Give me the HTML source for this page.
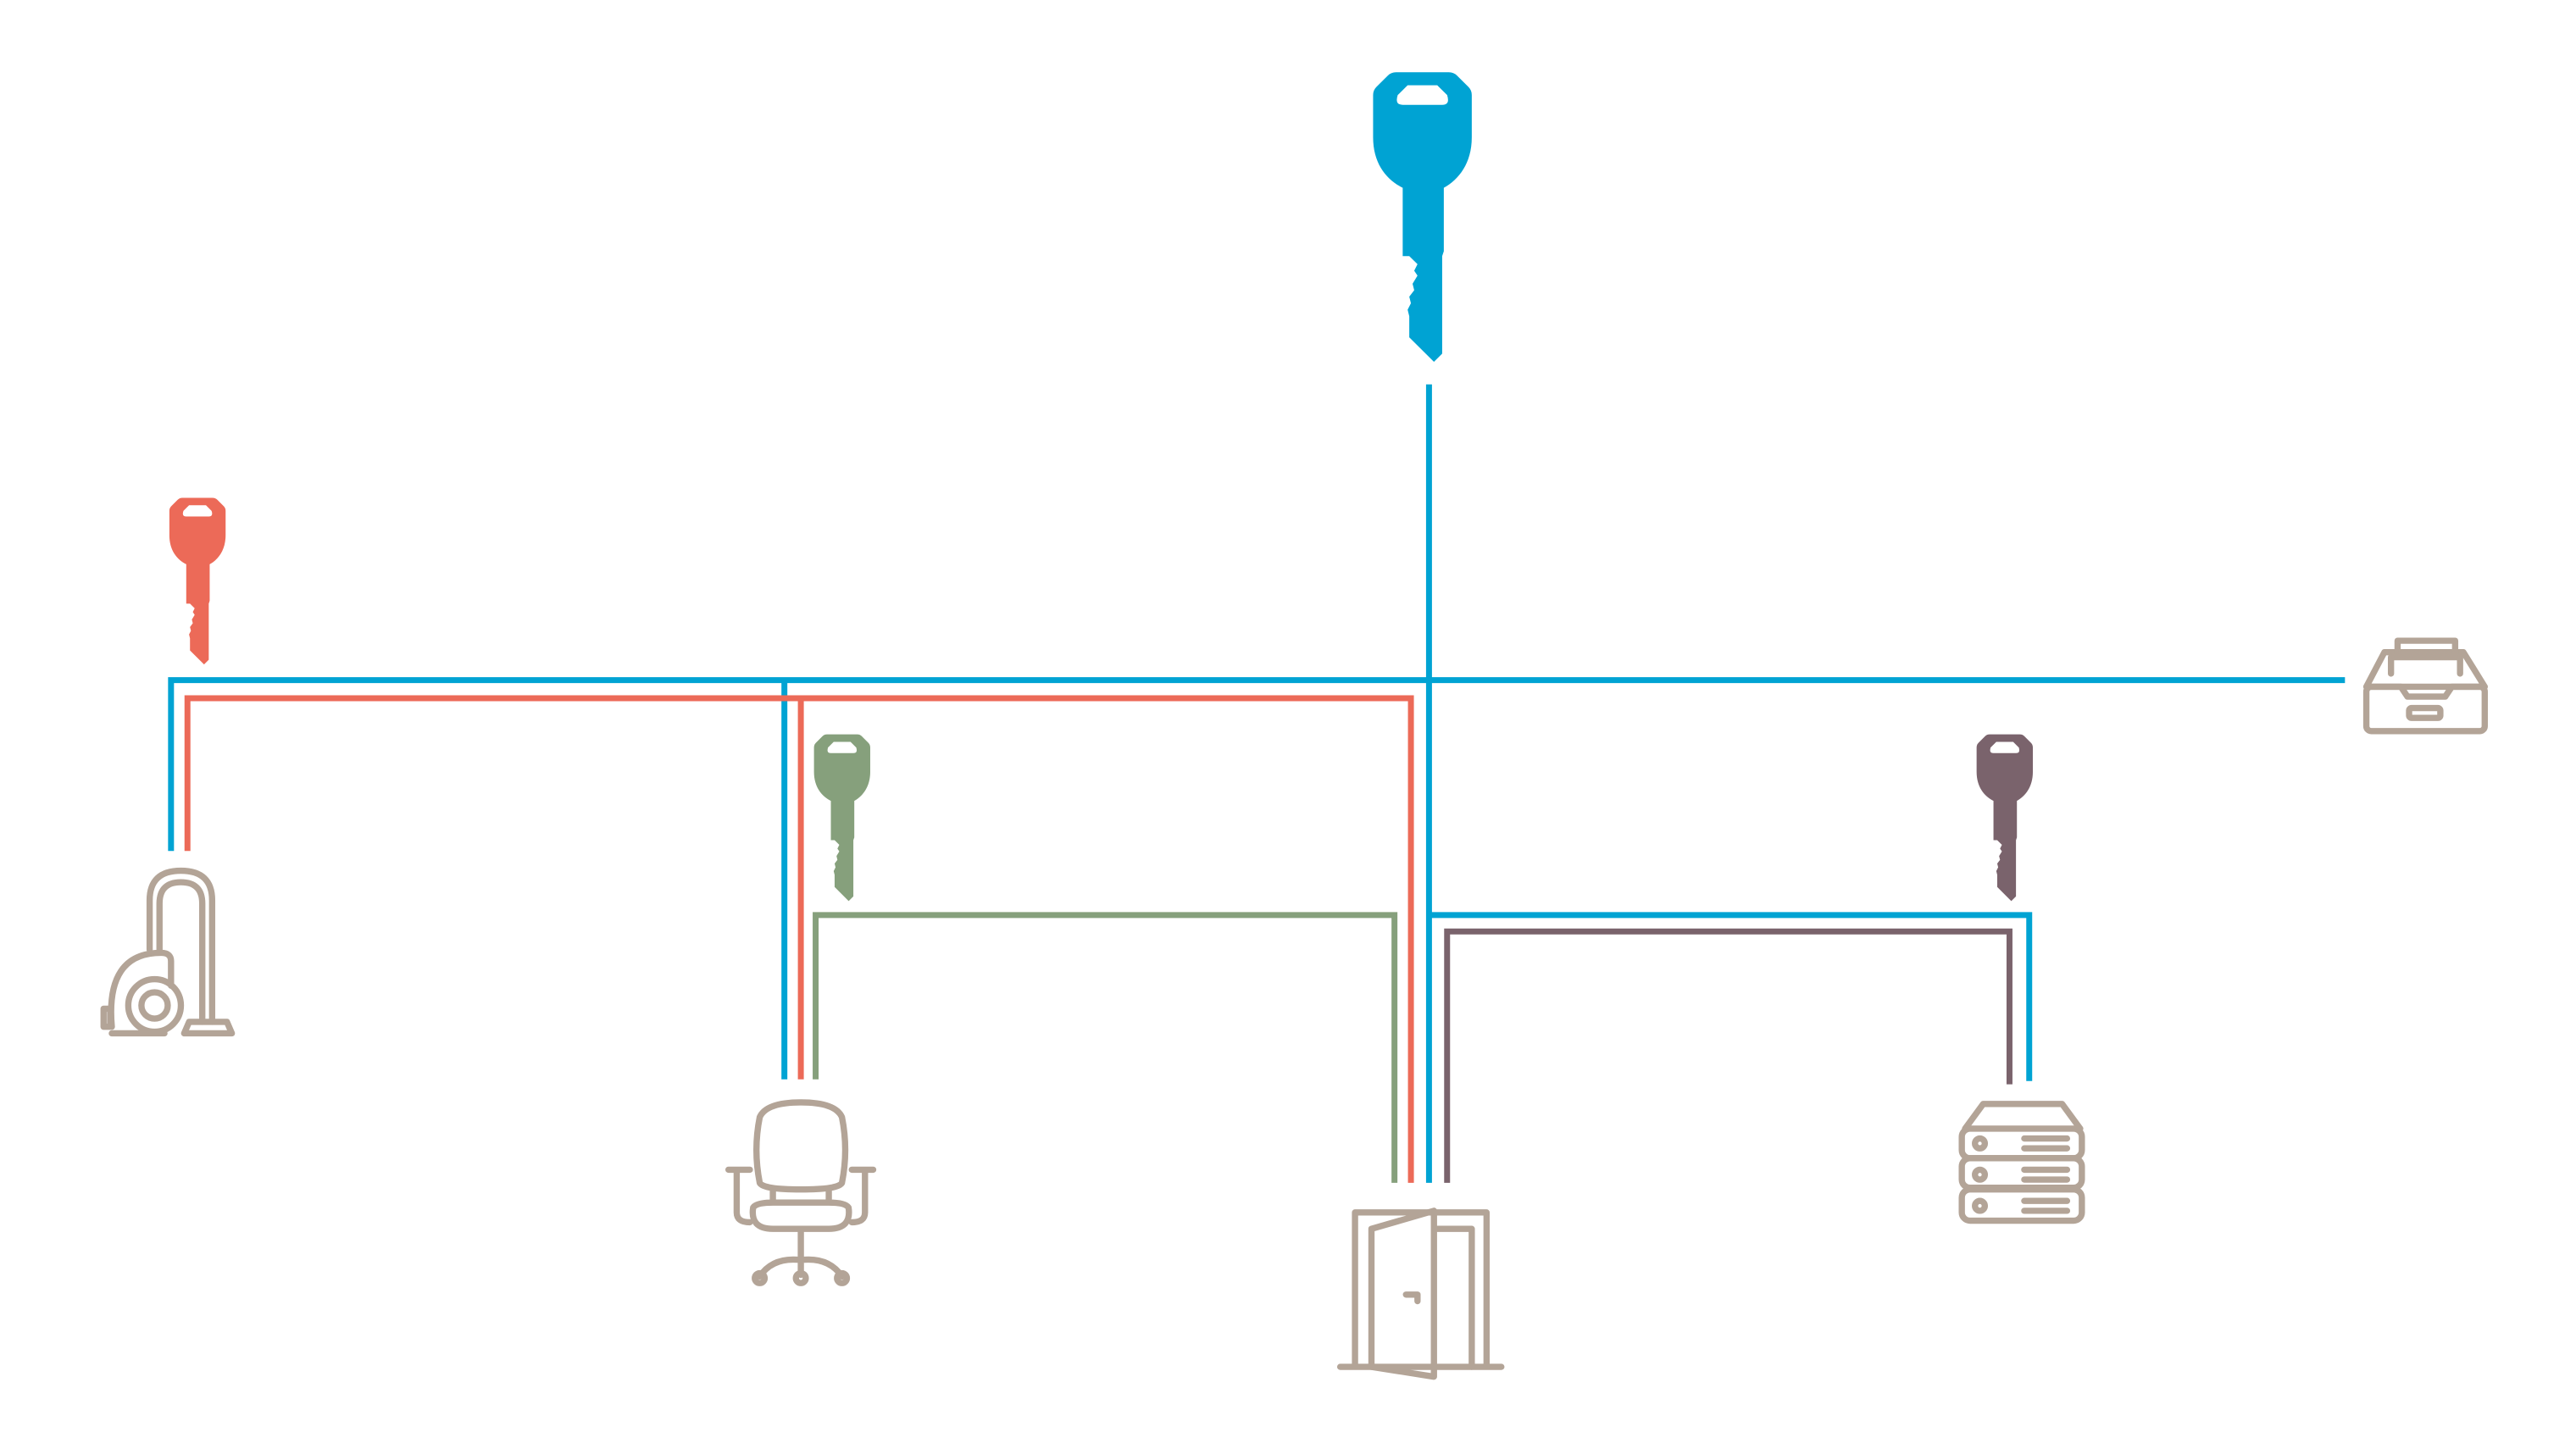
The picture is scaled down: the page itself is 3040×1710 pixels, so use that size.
<!DOCTYPE html>
<html><head><meta charset="utf-8"><style>html,body{margin:0;padding:0;background:#fff}svg{display:block}</style></head>
<body>
<svg width="3040" height="1710" viewBox="0 0 1566.5 882" preserveAspectRatio="none" xmlns="http://www.w3.org/2000/svg">
<defs>
<g id="key">
<path d="M14,0 H46 Q49,0 51,2 L58,9 Q60,11 60,14 V40 C60,56 52,66 43,71 V110 L42,113 V173 L37,178 L22,163 V150 L21,146 L23,142 L22,138 L25,134 L24,130 L27,125 L25,122 L27,118 L22,113 H18 V71 C8,66 0,56 0,40 V14 Q0,11 2,9 L9,2 Q11,0 14,0 Z"/>
<path d="M21,8 H39 L45,14 Q47,20 42,20 H18 Q13,20 15,14 Z" fill="#fff"/>
</g>
</defs>
<g fill="none" stroke-width="3.6" stroke-linejoin="miter">
<g stroke="#00a3d3">
<path d="M869,234 V720"/>
<path d="M104,518 V414 H1426"/>
<path d="M477,414 V657"/>
<path d="M869,557 H1234 V658"/>
</g>
<path stroke="#ec6a58" d="M114,518 V425 H858 V720 M487,425 V657"/>
<path stroke="#86a07c" d="M496,657 V557 H848 V720"/>
<path stroke="#7a636c" d="M880,720 V567 H1222 V660"/>
</g>
<use href="#key" fill="#00a3d3" transform="translate(835,44) scale(1,0.99)"/>
<use href="#key" fill="#ec6a58" transform="translate(103,303) scale(0.57,0.57)"/>
<use href="#key" fill="#86a07c" transform="translate(495,447) scale(0.57,0.57)"/>
<use href="#key" fill="#7a636c" transform="translate(1202,447) scale(0.57,0.57)"/>
<g fill="none" stroke="#b3a497" stroke-width="3.8" stroke-linecap="round" stroke-linejoin="round">
<path d="M91,578 V548 Q91,530 110,530 Q129,530 129,548 V622"/>
<path d="M97,578 V550 Q97,537 110,537 Q123,537 123,550 V622"/>
<path d="M112,629 H141 L138,622 H115 Z"/>
<path d="M104,585 V600 M68,625 Q64,580 98,580 Q104,580 104,585"/>
<circle cx="94" cy="612" r="16"/><circle cx="94" cy="612" r="8"/>
<path d="M68,629 H100 M63,614 H67 V625 H63 Z"/>
<path d="M462,720 Q458,700 462,680 Q466,671 487,671 Q508,671 512,680 Q516,700 512,720 Q510,724 487,724 Q464,724 462,720 Z"/>
<path d="M470,724 V732 M504,724 V732 M458,735 Q456,748 470,748 H504 Q518,748 516,735 Q514,732 504,732 H470 Q460,732 458,735 Z"/>
<path d="M443,712 H456 M518,712 H531 M448,714 V738 Q448,744 456,744 M526,714 V738 Q526,744 518,744"/>
<path d="M487,748 V768 M462,777 Q470,765 487,767 Q504,765 512,777 M487,768 V776"/>
<circle cx="462" cy="778" r="3"/><circle cx="487" cy="778" r="3"/><circle cx="512" cy="778" r="3"/>
<path d="M824,832 V738 H904 V832 M815,832 H913"/>
<path d="M872,748 H895 V832 M872,738 V838 L834,832 V748 L872,737"/>
<path d="M855,788 H862 V792"/>
<path d="M1195,687 L1206,672 H1254 L1265,687"/>
<rect x="1193" y="687" width="73" height="18" rx="5"/>
<rect x="1193" y="705" width="73" height="18" rx="5"/>
<rect x="1193" y="724" width="73" height="19" rx="5"/>
<circle cx="1204" cy="696" r="3"/><circle cx="1204" cy="715" r="3"/><circle cx="1204" cy="734" r="3"/>
<path d="M1231,693 H1257 M1231,699 H1257 M1231,712 H1257 M1231,718 H1257 M1231,731 H1257 M1231,737 H1257"/>
<rect x="1439" y="418" width="72" height="27" rx="3"/>
<path d="M1439,418 L1450,397 H1498 L1511,418 M1439,418 H1460 L1464,424 H1487 L1491,418 H1511"/>
<path d="M1454,410 V400 H1496 V410 M1458,400 V390 H1493 V400"/>
<rect x="1465" y="431" width="19" height="6" rx="1.5"/>
</g>
</svg>
</body></html>
